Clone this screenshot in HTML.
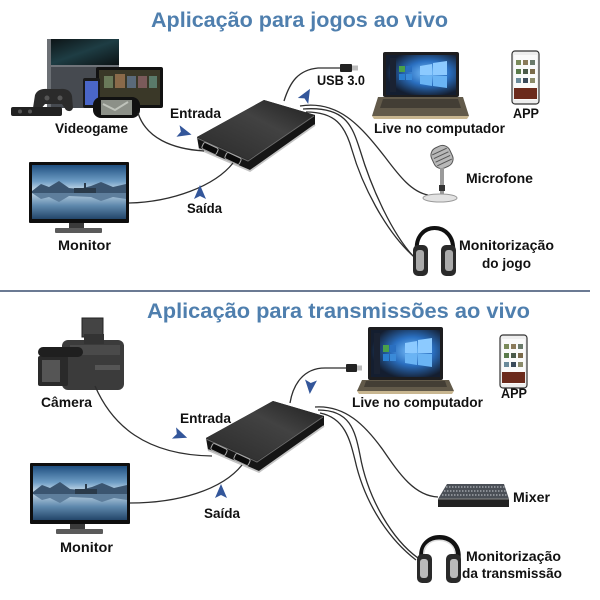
<!DOCTYPE html>
<html><head><meta charset="utf-8">
<style>
html,body{margin:0;padding:0;background:#fff;}
svg{display:block;}
text{font-family:"Liberation Sans",Arial,sans-serif;font-weight:bold;}
</style></head><body>
<svg width="600" height="600" viewBox="0 0 600 600" xmlns="http://www.w3.org/2000/svg">
<defs>
 <linearGradient id="sky" x1="0" y1="0" x2="0" y2="1">
  <stop offset="0" stop-color="#1f4f80"/>
  <stop offset="0.3" stop-color="#6d9cc4"/>
  <stop offset="0.48" stop-color="#cfe0ec"/>
  <stop offset="0.52" stop-color="#b9d0e2"/>
  <stop offset="0.75" stop-color="#5f89ad"/>
  <stop offset="1" stop-color="#23466a"/>
 </linearGradient>
 <linearGradient id="dev" x1="0" y1="1" x2="1" y2="0">
  <stop offset="0" stop-color="#2a2a2a"/>
  <stop offset="0.6" stop-color="#424242"/>
  <stop offset="1" stop-color="#1e1e1e"/>
 </linearGradient>
 <linearGradient id="ps" x1="0" y1="0" x2="1" y2="1">
  <stop offset="0" stop-color="#0c1214"/>
  <stop offset="0.5" stop-color="#1e3d44"/>
  <stop offset="1" stop-color="#0c1214"/>
 </linearGradient>
 <radialGradient id="win" cx="0.6" cy="0.45" r="0.6">
  <stop offset="0" stop-color="#7cc4ff"/>
  <stop offset="0.5" stop-color="#2a6fc0"/>
  <stop offset="1" stop-color="#141e30"/>
 </radialGradient>
 <g id="monitor">
  <rect x="0" y="0" width="100" height="61" fill="#0e0e0e" rx="1"/>
  <rect x="3" y="3" width="94" height="54" fill="url(#sky)"/>
  <polygon points="3,29 12,22 20,25 30,19 40,26 50,27 62,24 72,20 84,25 97,22 97,31 3,31" fill="#3b5570"/>
  <rect x="45" y="26" width="22" height="5" fill="#2a3a4a"/>
  <rect x="55" y="21" width="2" height="6" fill="#2a3a4a"/>
  <polygon points="3,31 12,37 20,35 30,40 40,34 62,35 72,39 84,35 97,37 97,31" fill="#5e7e9c"/>
  <rect x="40" y="61" width="15" height="6" fill="#3a3a3a"/>
  <rect x="26" y="66" width="47" height="5" fill="#5a5a5a" rx="1"/>
 </g>
 <g id="device">
  <polygon points="197,137 264,100 315,115 315,125 250,171 199,149" fill="#151515"/>
  <polygon points="197,137 264,100 315,115 248,160" fill="url(#dev)"/>
  <polyline points="197,138 248,161 314,116" fill="none" stroke="#6a6a6a" stroke-width="1"/>
  <polyline points="199,149 250,171 315,125" fill="none" stroke="#c4c4c4" stroke-width="1.8"/>
  <g transform="rotate(25 210 148.5)"><rect x="202" y="145" width="16" height="7" rx="2" fill="#0a0a0a" stroke="#a8a8a8" stroke-width="1"/></g>
  <g transform="rotate(25 233 158.5)"><rect x="225" y="155" width="16" height="7" rx="2" fill="#0a0a0a" stroke="#a8a8a8" stroke-width="1"/></g>
 </g>
 <g id="phone">
  <rect x="0" y="0" width="27" height="53" rx="3" fill="#eee" stroke="#333" stroke-width="1.2"/>
  <rect x="2" y="4" width="23" height="45" fill="#fafafa"/>
  <rect x="4" y="9" width="5" height="5" fill="#7a8a5a"/><rect x="11" y="9" width="5" height="5" fill="#8a7a5a"/><rect x="18" y="9" width="5" height="5" fill="#6a7a6a"/>
  <rect x="4" y="18" width="5" height="5" fill="#5a7a4a"/><rect x="11" y="18" width="5" height="5" fill="#4a5a4a"/><rect x="18" y="18" width="5" height="5" fill="#7a6a4a"/>
  <rect x="4" y="27" width="5" height="5" fill="#6a8a9a"/><rect x="11" y="27" width="5" height="5" fill="#3a4a5a"/><rect x="18" y="27" width="5" height="5" fill="#8a8a6a"/>
  <rect x="2" y="37" width="23" height="11" fill="#6b2a1c"/>
 </g>
 <g id="arr"><polygon points="0,-6 14,0 0,6 3,0" fill="#33569a"/></g>
</defs>

<!-- Titles -->
<text x="151" y="27" font-size="21" fill="#4f7fae" textLength="297" lengthAdjust="spacingAndGlyphs">Aplicação para jogos ao vivo</text>
<line x1="0" y1="291" x2="590" y2="291" stroke="#6b7a93" stroke-width="2"/>
<text x="147" y="318" font-size="21" fill="#4f7fae" textLength="383" lengthAdjust="spacingAndGlyphs">Aplicação para transmissões ao vivo</text>

<!-- ===== TOP SECTION ===== -->
<rect x="47" y="39" width="72" height="26" fill="url(#ps)"/>
<rect x="47" y="65" width="72" height="2" fill="#70747a"/>
<rect x="47" y="67" width="72" height="41" fill="#464a50"/>
<rect x="47" y="39" width="4" height="69" fill="#6c7075"/>
<rect x="96" y="67" width="67" height="41" rx="2" fill="#111"/>
<rect x="99" y="70" width="61" height="35" fill="#3a3828"/>
<rect x="104" y="76" width="9" height="12" fill="#6a7a5a"/><rect x="115" y="74" width="10" height="14" fill="#8a6a4a"/>
<rect x="127" y="76" width="9" height="12" fill="#5a6a7a"/><rect x="138" y="76" width="9" height="12" fill="#7a5a5a"/>
<rect x="149" y="76" width="8" height="12" fill="#5a7a6a"/>
<rect x="83" y="78" width="17" height="30" rx="2" fill="#1a1a1a"/>
<rect x="85" y="81" width="13" height="24" fill="#4a66c8"/>
<path d="M35,95 Q38,88 48,89 L60,89 Q70,88 72,96 L73,108 Q71,113 66,110 L62,104 L45,104 L40,110 Q35,113 33,108 Z" fill="#2b2b2b"/>
<circle cx="47" cy="98" r="2.5" fill="#555"/><circle cx="60" cy="98" r="2.5" fill="#555"/>
<rect x="11" y="107" width="51" height="9" rx="2" fill="#222"/>
<circle cx="20" cy="111.5" r="2" fill="#555"/><circle cx="30" cy="111.5" r="2" fill="#555"/>
<rect x="93" y="97" width="47" height="21" rx="8" fill="#111"/>
<rect x="101" y="100" width="31" height="15" fill="#8c9088"/>
<path d="M103,104 L115,110 L128,102" stroke="#bfc3bb" stroke-width="2" fill="none"/>

<g fill="none" stroke="#2e2e2e" stroke-width="1.3">
 <path d="M284,101 C290,82 298,70 318,68 L341,68"/>
 <path d="M300,106 C338,100 360,125 385,157 C400,177 412,192 428,195"/>
 <path d="M303,109 C345,106 352,125 360,150 C372,190 393,235 414,257"/>
 <path d="M306,112 C335,112 345,125 352,150 C362,185 385,230 412,255"/>
</g>
<rect x="340" y="64" width="12" height="8" rx="1" fill="#222"/>
<rect x="352" y="65.5" width="6" height="5" fill="#bbb"/>

<use href="#device"/>
<g fill="none" stroke="#2e2e2e" stroke-width="1.3">
 <path d="M138,113 C146,138 172,149 204,151"/>
 <path d="M129,203 C172,202 215,186 233,163"/>
</g>

<use href="#monitor" transform="translate(29,162)"/>

<rect x="383" y="52" width="76" height="45" fill="#1d1d1f" rx="2"/>
<rect x="386" y="55" width="70" height="40" fill="url(#win)"/>
<rect x="390" y="58" width="6" height="34" fill="#1a2232"/>
<rect x="399" y="66" width="6" height="6" fill="#4aa04a"/><rect x="406" y="66" width="6" height="6" fill="#2a6fc0"/>
<rect x="399" y="74" width="6" height="6" fill="#2a7fd0"/><rect x="406" y="74" width="6" height="6" fill="#3a8ad8"/>
<polygon points="420,66 432,64 432,75 420,75" fill="#8ccaff"/><polygon points="433,63 447,61 447,75 433,75" fill="#8ccaff"/>
<polygon points="420,76 432,76 432,86 420,84" fill="#6ab4f4"/><polygon points="433,76 447,76 447,88 433,86" fill="#6ab4f4"/>
<polygon points="378,97 463,97 469,116 372,116" fill="#625a4a"/>
<polygon points="383,99 458,99 461,108 380,108" fill="#433e35"/>
<polygon points="372,116 469,116 467,119 374,119" fill="#c8b690"/>

<use href="#phone" transform="translate(512,51)"/>

<g transform="rotate(-25 442 157)">
 <rect x="432" y="146" width="20" height="22" rx="8" fill="#b8b8b8" stroke="#555" stroke-width="1"/>
 <line x1="434" y1="151" x2="450" y2="151" stroke="#555"/><line x1="434" y1="155" x2="450" y2="155" stroke="#555"/>
 <line x1="434" y1="159" x2="450" y2="159" stroke="#555"/><line x1="434" y1="163" x2="450" y2="163" stroke="#555"/>
</g>
<rect x="440" y="168" width="4" height="27" fill="#9a9a9a"/>
<rect x="439" y="185" width="6" height="6" fill="#333"/>
<ellipse cx="440" cy="198" rx="17" ry="4" fill="#e2e2e2" stroke="#999"/>

<path d="M417,252 C413,220 456,220 453,252" fill="none" stroke="#111" stroke-width="4"/>
<rect x="413" y="245" width="15" height="31" rx="5" fill="#2a2a2a"/>
<rect x="416" y="250" width="8" height="21" rx="3" fill="#aaa"/>
<rect x="441" y="245" width="15" height="31" rx="5" fill="#2a2a2a"/>
<rect x="445" y="250" width="8" height="21" rx="3" fill="#aaa"/>

<use href="#arr" transform="translate(178,131) rotate(15)"/>
<use href="#arr" transform="translate(200,199) rotate(-90)"/>
<use href="#arr" transform="translate(303,101) rotate(-60)"/>

<g font-size="13.5" fill="#111">
<text x="55" y="133" textLength="73" lengthAdjust="spacingAndGlyphs">Videogame</text>
<text x="170" y="118" textLength="51" lengthAdjust="spacingAndGlyphs">Entrada</text>
<text x="187" y="213" textLength="35" lengthAdjust="spacingAndGlyphs">Saída</text>
<text x="58" y="250" textLength="53" lengthAdjust="spacingAndGlyphs">Monitor</text>
<text x="317" y="85" textLength="48" lengthAdjust="spacingAndGlyphs">USB 3.0</text>
<text x="374" y="133" textLength="131" lengthAdjust="spacingAndGlyphs">Live no computador</text>
<text x="513" y="118" textLength="26" lengthAdjust="spacingAndGlyphs">APP</text>
<text x="466" y="183" textLength="67" lengthAdjust="spacingAndGlyphs">Microfone</text>
<text x="459" y="250" textLength="95" lengthAdjust="spacingAndGlyphs">Monitorização</text>
<text x="482" y="268" textLength="49" lengthAdjust="spacingAndGlyphs">do jogo</text>
</g>

<!-- ===== BOTTOM SECTION ===== -->
<rect x="62" y="340" width="62" height="50" rx="6" fill="#3b3b3b"/>
<rect x="70" y="345" width="50" height="10" fill="#4a4a4a"/>
<rect x="38" y="356" width="30" height="30" rx="2" fill="#2a2a2a"/>
<rect x="42" y="360" width="18" height="22" fill="#555"/>
<rect x="38" y="347" width="45" height="10" rx="5" fill="#1f1f1f"/>
<rect x="82" y="318" width="21" height="19" fill="#444" stroke="#222"/>
<rect x="84" y="334" width="20" height="10" fill="#333"/>
<rect x="95" y="365" width="25" height="5" fill="#555"/>

<g fill="none" stroke="#2e2e2e" stroke-width="1.3">
 <path d="M290,403 C293,385 303,368 325,368 L346,368"/>
 <path d="M315,407 C345,405 365,425 383,450 C400,475 415,496 438,497"/>
 <path d="M318,410 C350,410 355,430 360,455 C368,500 393,540 418,558"/>
 <path d="M320,413 C345,418 350,440 355,460 C365,505 390,540 416,560"/>
</g>
<rect x="346" y="364" width="11" height="8" rx="1" fill="#222"/>
<rect x="357" y="365.5" width="5" height="5" fill="#bbb"/>

<use href="#device" transform="translate(9,301)"/>
<g fill="none" stroke="#2e2e2e" stroke-width="1.3">
 <path d="M95,386 C112,425 145,455 212,456"/>
 <path d="M130,503 C178,503 222,490 242,465"/>
</g>

<use href="#monitor" transform="translate(30,463)"/>

<rect x="368" y="327" width="75" height="53" fill="#1d1d1f" rx="2"/>
<rect x="371" y="330" width="69" height="47" fill="url(#win)"/>
<rect x="374" y="333" width="6" height="41" fill="#1a2232"/>
<rect x="383" y="345" width="6" height="7" fill="#4aa04a"/><rect x="390" y="345" width="6" height="7" fill="#2a6fc0"/>
<rect x="383" y="354" width="6" height="7" fill="#2a7fd0"/><rect x="390" y="354" width="6" height="7" fill="#3a8ad8"/>
<polygon points="405,343 417,341 417,353 405,353" fill="#8ccaff"/><polygon points="418,340 432,338 432,353 418,353" fill="#8ccaff"/>
<polygon points="405,354 417,354 417,365 405,363" fill="#6ab4f4"/><polygon points="418,354 432,354 432,367 418,365" fill="#6ab4f4"/>
<polygon points="362,380 449,380 454,391 357,391" fill="#625a4a"/>
<polygon points="366,381 445,381 447,387 364,387" fill="#433e35"/>
<polygon points="357,391 454,391 452,394 359,394" fill="#c8b690"/>

<use href="#phone" transform="translate(500,335)"/>

<polygon points="447,484 504,484 509,499 438,499" fill="#4a4f56"/>
<g stroke="#c8ccd2" stroke-width="1" stroke-dasharray="1.5,1.5">
 <line x1="446" y1="487" x2="505" y2="487"/><line x1="444" y1="491" x2="506" y2="491"/><line x1="442" y1="495" x2="507" y2="495"/>
</g>
<polygon points="438,499 509,499 509,507 438,507" fill="#222"/>
<line x1="438" y1="499" x2="509" y2="499" stroke="#888"/>

<path d="M422,560 C417,530 462,530 458,560" fill="none" stroke="#111" stroke-width="5"/>
<path d="M424,556 C421,535 457,535 455,556" fill="none" stroke="#ddd" stroke-width="1.5"/>
<rect x="417" y="554" width="15" height="29" rx="5" fill="#2a2a2a"/>
<rect x="420" y="559" width="8" height="19" rx="3" fill="#bbb"/>
<rect x="446" y="554" width="15" height="29" rx="5" fill="#2a2a2a"/>
<rect x="450" y="559" width="8" height="19" rx="3" fill="#bbb"/>

<use href="#arr" transform="translate(174,433) rotate(20)"/>
<use href="#arr" transform="translate(221,498) rotate(-90)"/>
<use href="#arr" transform="translate(311,380) rotate(95)"/>

<g font-size="13.5" fill="#111">
<text x="41" y="407" textLength="51" lengthAdjust="spacingAndGlyphs">Câmera</text>
<text x="180" y="423" textLength="51" lengthAdjust="spacingAndGlyphs">Entrada</text>
<text x="204" y="518" textLength="36" lengthAdjust="spacingAndGlyphs">Saída</text>
<text x="60" y="552" textLength="53" lengthAdjust="spacingAndGlyphs">Monitor</text>
<text x="352" y="407" textLength="131" lengthAdjust="spacingAndGlyphs">Live no computador</text>
<text x="501" y="398" textLength="26" lengthAdjust="spacingAndGlyphs">APP</text>
<text x="513" y="502" textLength="37" lengthAdjust="spacingAndGlyphs">Mixer</text>
<text x="466" y="561" textLength="95" lengthAdjust="spacingAndGlyphs">Monitorização</text>
<text x="462" y="578" textLength="100" lengthAdjust="spacingAndGlyphs">da transmissão</text>
</g>
</svg>
</body></html>
